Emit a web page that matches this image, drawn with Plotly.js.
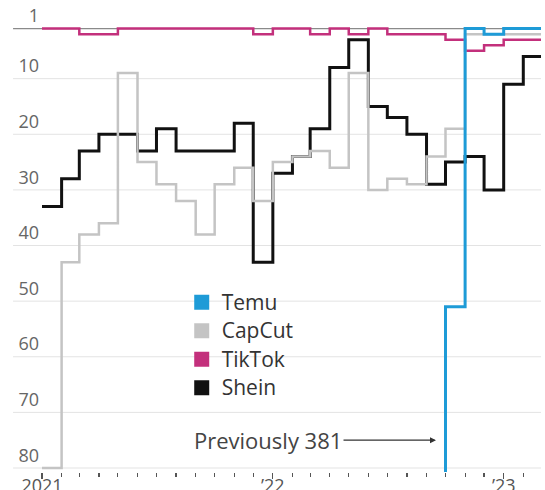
<!DOCTYPE html>
<html><head><meta charset="utf-8">
<script src="https://cdn.plot.ly/plotly-3.0.1.min.js"></script>
<style>html,body{margin:0;padding:0;background:#fff}#chart{width:545px;height:490px}</style>
</head><body><div id="chart"></div>
<script>
const months = ['2021-01-01','2021-02-01','2021-03-01','2021-04-01','2021-05-01','2021-06-01',
  '2021-07-01','2021-08-01','2021-09-01','2021-10-01','2021-11-01','2021-12-01',
  '2022-01-01','2022-02-01','2022-03-01','2022-04-01','2022-05-01','2022-06-01',
  '2022-07-01','2022-08-01','2022-09-01','2022-10-01','2022-11-01','2022-12-01',
  '2023-01-01','2023-02-01'];
const periodEnd = '2023-03-01';
const temu   = [null,null,null,null,null,null,null,null,null,null,null,null,null,null,null,null,null,null,null,null,381,51,1,2,1,1];
const capcut = [80,43,38,36,9,25,29,32,38,29,26,32,25,24,23,26,9,30,28,29,24,19,2,2,2,2];
const tiktok = [1,1,2,2,1,1,1,1,1,1,1,2,1,1,2,1,2,1,2,2,2,3,5,4,3,3];
const shein  = [33,28,23,20,20,23,19,23,23,23,18,43,27,24,19,8,3,15,17,20,29,25,24,30,11,6];
const seriesNames = ['Temu','CapCut','TikTok','Shein'];
const seriesColors = ['#1e9bd7','#c4c4c4','#c3307c','#111111'];
const yTicks = [1,10,20,30,40,50,60,70,80];
const yearTicks = ['2021-01-01','2022-01-01','2023-01-01'];
const yearLabels = ['2021',"\u201922","\u201923"];
const noteText = 'Previously 381';

const FONT = '"Open Sans", "DejaVu Sans", sans-serif';
const xs = months.concat([periodEnd]);
function ext(a){ return a.concat([a[a.length-1]]); }

const seriesData = {Temu: temu, CapCut: capcut, TikTok: tiktok, Shein: shein};
const widths = {Temu: 3, CapCut: 2.5, TikTok: 2.5, Shein: 3};
const drawOrder = ['Shein','TikTok','CapCut','Temu'];

const traces = [];
drawOrder.forEach(n => {
  const i = seriesNames.indexOf(n);
  traces.push({type:'scatter', mode:'lines', x: xs, y: ext(seriesData[n]), name: n,
    line:{shape:'hv', color: seriesColors[i], width: widths[n]}, showlegend:false, hoverinfo:'skip', connectgaps:false});
});
seriesNames.forEach((n,i) => {
  traces.push({type:'scatter', mode:'markers', x:[null], y:[null],
    name:'<span style="font-size:21px">' + n + '</span>',
    marker:{symbol:'square', size:15, color: seriesColors[i]}, showlegend:true, hoverinfo:'skip'});
});

const shapes = yTicks.map((t,i) => ({type:'line', xref:'paper', yref:'y', x0:-0.058, x1:1, y0:t, y1:t,
  line:{color: i===0 ? '#8a8a8a' : '#e3e3e3', width: i===0 ? 1.3 : 1}, layer:'below'}));

const layout = {
  width:545, height:490,
  margin:{l:42, r:4, t:20, b:18, pad:0},
  paper_bgcolor:'#fff', plot_bgcolor:'#fff',
  font:{family: FONT, color:'#555', size:18},
  showlegend:true,
  legend:{x:0.28, y:0.418, xanchor:'left', yanchor:'top', traceorder:'normal',
    font:{size:19.6, color:'#333', family: FONT}, bgcolor:'rgba(0,0,0,0)', itemwidth:30},
  xaxis:{type:'date', range:[months[0], periodEnd], showgrid:false, zeroline:false, showline:false,
    tickmode:'array', tickvals: yearTicks, ticktext: yearLabels, ticks:'outside', ticklen:6, tickwidth:1.2, tickcolor:'#555',
    ticklabelstandoff:-9, tickfont:{size:18, color:'#555'},
    minor:{tickmode:'array', tickvals: months.slice(1), ticks:'outside', ticklen:4, tickwidth:1.2, tickcolor:'#555', showgrid:false}},
  yaxis:{range:[80.72, -0.546], showgrid:false, zeroline:false, showline:false,
    tickmode:'array', tickvals: yTicks, ticks:'', ticklabelposition:'outside top', ticklabelstandoff:2,
    tickfont:{size:18, color:'#666'}},
  shapes: shapes,
  annotations:[{x:'2022-09-16', y:75, xref:'x', yref:'y', text: noteText, showarrow:true,
    ax:-168, ay:0, axref:'pixel', arrowhead:2, arrowsize:1, arrowwidth:1.2, arrowcolor:'#333',
    font:{size:22, color:'#444', family: FONT}}]
};
Plotly.newPlot('chart', traces, layout, {displayModeBar:false, staticPlot:true});
</script></body></html>
